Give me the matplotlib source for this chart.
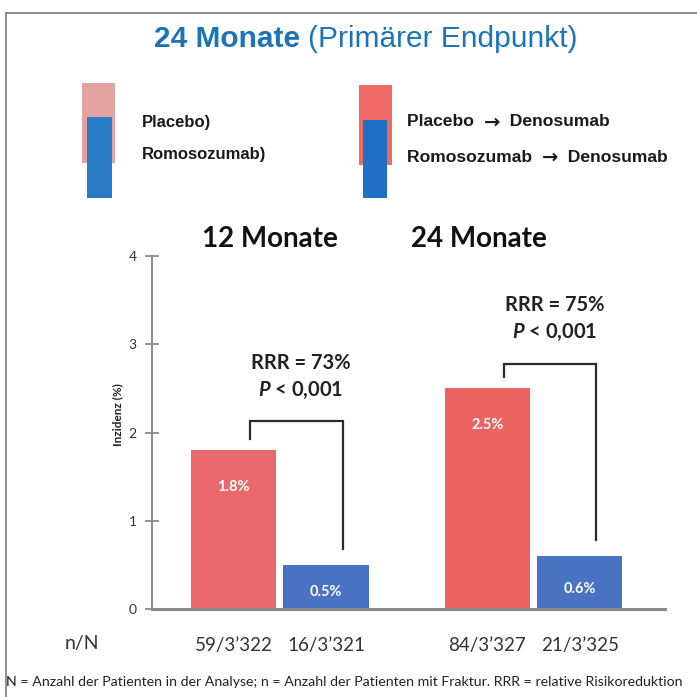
import matplotlib
matplotlib.use("Agg")
import matplotlib.pyplot as plt
from matplotlib.patches import Rectangle
from matplotlib.lines import Line2D

# ---- data ----
periods = ["12 Monate", "24 Monate"]
placebo_pct = [1.8, 2.5]
romo_pct = [0.5, 0.6]
placebo_nN = ["59/3’322", "84/3’327"]
romo_nN = ["16/3’321", "21/3’325"]
rrr_pct = [73, 75]
p_values = ["0,001", "0,001"]
y_ticks = [0, 1, 2, 3, 4]

plt.rcParams["font.family"] = ["Lato", "DejaVu Sans"]
plt.rcParams["mathtext.fontset"] = "custom"
plt.rcParams["mathtext.it"] = "Lato:bold:italic"
plt.rcParams["mathtext.rm"] = "Lato:bold"

W = H = 697
fig = plt.figure(figsize=(W / 100, H / 100), dpi=100)
renderer = fig.canvas.get_renderer()


def fx(x):
    return x / W


def fy(y):
    return 1 - y / H


def text_run(x, y, pieces, **kw):
    """Place consecutive text pieces (string, extra kwargs) on one line."""
    cur = x
    for s, extra in pieces:
        t = fig.text(fx(cur), fy(y), s, ha="left", va="center", **{**kw, **extra})
        bb = t.get_window_extent(renderer=renderer)
        cur = bb.x1


RED_12 = "#e8686b"
RED_24 = "#ec6461"
BLUE_BAR = "#4a72c2"
DARK = "#2b2b2b"
GREY_AX = "#8a8a8a"

# frame around the panel
fig.add_artist(Line2D([fx(6), fx(697)], [fy(13), fy(13)], color="#7a7a7a", lw=1.2))
fig.add_artist(Line2D([fx(6), fx(6)], [fy(13), fy(697)], color="#7a7a7a", lw=1.2))

# title
text_run(154, 39, [("24 Monate ", dict(fontweight="bold")),
                   ("(Primärer Endpunkt)", dict())],
         color="#1b74b8", fontsize=21.5, family="Liberation Sans")

# legend blocks
fig.add_artist(Rectangle((fx(82), fy(163)), fx(115) - fx(82), fy(83) - fy(163),
                         facecolor="#e4a3a3", edgecolor="none"))
fig.add_artist(Rectangle((fx(87), fy(198)), fx(112) - fx(87), fy(117) - fy(198),
                         facecolor="#2a7bc6", edgecolor="none"))
fig.add_artist(Rectangle((fx(359), fy(165)), fx(392) - fx(359), fy(85) - fy(165),
                         facecolor="#ee6964", edgecolor="none"))
fig.add_artist(Rectangle((fx(363), fy(198)), fx(387) - fx(363), fy(120) - fy(198),
                         facecolor="#1f6fc6", edgecolor="none"))

leg_kw = dict(fontsize=12, fontweight="bold", family="Liberation Sans",
              color="#1a1a1a")
leg_kw_r = dict(leg_kw, fontsize=12.6)
arrow = ("\u2192", dict(family="DejaVu Sans", fontsize=14))
text_run(142, 122, [("Placebo)", {})], **leg_kw)
text_run(142, 155, [("Romosozumab)", {})], **leg_kw)
text_run(407, 122, [("Placebo  ", {}), arrow, ("  Denosumab", {})], **leg_kw_r)
text_run(407, 157, [("Romosozumab  ", {}), arrow, ("  Denosumab", {})], **leg_kw_r)

# period headings
fig.text(fx(270), fy(239), periods[0], fontsize=20, fontweight="bold",
         color="#111111", ha="center", va="center")
fig.text(fx(479), fy(239), periods[1], fontsize=20, fontweight="bold",
         color="#111111", ha="center", va="center")

# ---- axes ----
ax = fig.add_axes([fx(152), fy(609), fx(665) - fx(152), fy(256) - fy(609)])
centers_p = [0.0, 2.74]
centers_r = [1.0, 3.74]
bw = 0.92
reds = [RED_12, RED_24]

ax.bar(centers_p, placebo_pct, width=bw, color=reds, zorder=2)
ax.bar(centers_r, romo_pct, width=bw, color=BLUE_BAR, zorder=2)

ax.set_xlim(-0.88, 4.66)
ax.set_ylim(0, 4)
ax.set_yticks(y_ticks)
ax.set_yticklabels([str(t) for t in y_ticks])
ax.tick_params(axis="y", direction="inout", length=10, width=1.3, color=GREY_AX,
               labelsize=10, labelcolor="#333333", pad=6)
ax.set_xticks(centers_p + centers_r)
ax.set_xticklabels(placebo_nN + romo_nN)
ax.tick_params(axis="x", length=0, labelsize=13.5, labelcolor="#333333", pad=20)
for s in ["top", "right"]:
    ax.spines[s].set_visible(False)
ax.spines["left"].set_color(GREY_AX)
ax.spines["left"].set_linewidth(1.4)
ax.spines["bottom"].set_color(GREY_AX)
ax.spines["bottom"].set_linewidth(2.2)
ax.patch.set_alpha(0)

ax.set_ylabel("Inzidenz (%)", fontsize=8.5, fontweight="bold", color="#222222")
ax.yaxis.set_label_coords(-0.056, 0.55)

# value labels inside bars
for c, v in zip(centers_p, placebo_pct):
    ax.text(c, v - 0.42, f"{v:.1f}%", color="white", fontsize=10.5,
            fontweight="bold", ha="center", va="center", zorder=3)
for c, v in zip(centers_r, romo_pct):
    ax.text(c, v * 0.38, f"{v:.1f}%", color="white", fontsize=10.5,
            fontweight="bold", ha="center", va="center", zorder=3)

# significance brackets
shift = 0.18
for cp, cr, vp, vr, rrr, pv in zip(centers_p, centers_r, placebo_pct, romo_pct,
                                    rrr_pct, p_values):
    top = vp + 0.33 if vp < 2 else vp + 0.28
    left_start = vp + 0.13
    right_end = vr + 0.18
    xl, xr = cp + shift, cr + shift
    ax.plot([xl, xl, xr, xr], [left_start, top, top, right_end], color=DARK,
            lw=1.6, solid_joinstyle="miter", zorder=3)
    xm = (xl + xr) / 2 + 0.05
    ax.text(xm, top + 0.66, f"RRR = {rrr}%", fontsize=14.5, fontweight="bold",
            color="#222222", ha="center", va="center")
    ax.text(xm, top + 0.35, f"$P$ < {pv}", fontsize=14.5, fontweight="bold",
            color="#222222", ha="center", va="center")

# n/N row label
fig.text(fx(82), fy(643), "n/N", fontsize=14, color="#333333",
         ha="center", va="center")

# footnote
fig.text(fx(6), fy(682),
         "N = Anzahl der Patienten in der Analyse; n = Anzahl der Patienten mit Fraktur. "
         "RRR = relative Risikoreduktion",
         fontsize=10.2, color="#222222", ha="left", va="center")

fig.savefig("out.png", dpi=100, facecolor="white")
